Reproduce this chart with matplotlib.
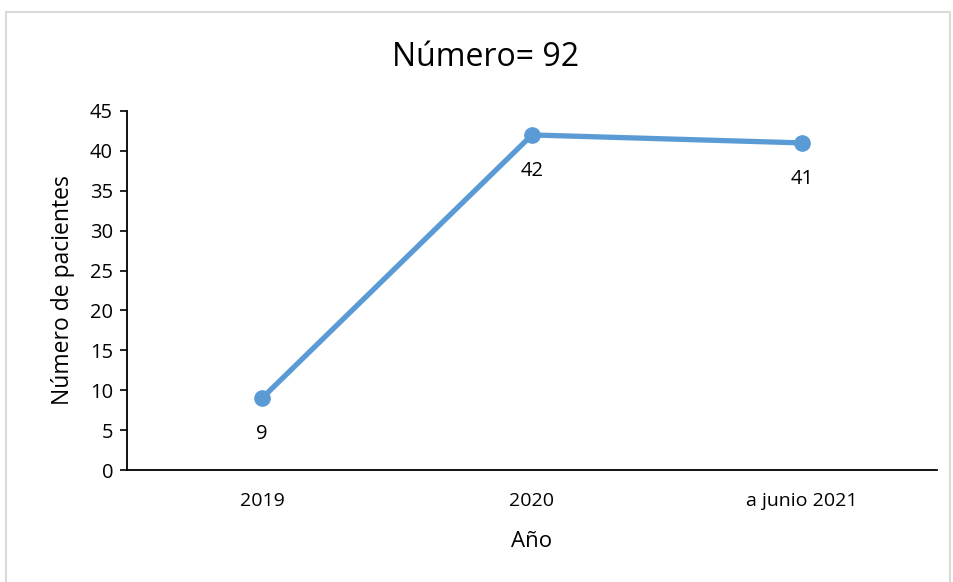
import matplotlib.pyplot as plt
from matplotlib.patches import Rectangle

# data
years = ['2019', '2020', 'a junio 2021']
patients = [9, 42, 41]
title_txt = 'Número= 92'

plt.rcParams['font.family'] = ['Open Sans', 'DejaVu Sans']

fig = plt.figure(figsize=(9.54, 5.82), dpi=100)
ax = fig.add_axes([127/954, 1 - 470/582, 810/954, 359/582])

# grey chart-area border
fig.patches.append(Rectangle((6/954, -0.01), 944/954, 1 - 12/582 + 0.01,
                             transform=fig.transFigure, fill=False,
                             edgecolor='#d9d9d9', linewidth=1.5))

x = list(range(len(years)))
ax.plot(x, patients, color='#5b9bd5', linewidth=3.8, marker='o',
        markersize=11, solid_capstyle='round')

for xi, v in zip(x, patients):
    ax.annotate(str(v), (xi, v), xytext=(0, -26), textcoords='offset points',
                ha='center', va='center', fontsize=14.5)

ax.set_xlim(-0.5, 2.5)
ax.set_ylim(0, 45)
ax.set_yticks(range(0, 46, 5))
ax.set_xticks(x)
ax.set_xticklabels(years)
ax.tick_params(axis='x', length=0, pad=16, labelsize=14)
ax.tick_params(axis='y', length=5, width=1.2, direction='out', pad=5, labelsize=14.5)

for s in ['top', 'right']:
    ax.spines[s].set_visible(False)
ax.spines['left'].set_linewidth(1.3)
ax.spines['bottom'].set_linewidth(1.3)

ax.set_ylabel('Número de pacientes', fontsize=16.5, labelpad=11)
ax.set_xlabel('Año', fontsize=16, labelpad=15)
fig.text(486/954, 1 - 57/582, title_txt, ha='center', va='center', fontsize=23)

fig.savefig('out.png', dpi=100)
